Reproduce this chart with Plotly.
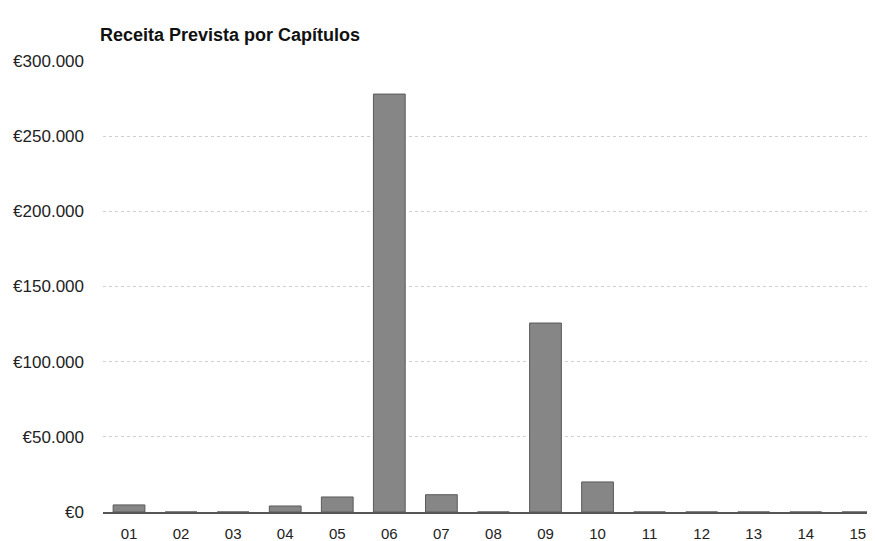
import plotly.graph_objects as go

categories = ["01", "02", "03", "04", "05", "06", "07", "08", "09", "10", "11", "12", "13", "14", "15"]
values = [4700, 0, 0, 4000, 10000, 278000, 11500, 0, 125700, 20000, 0, 0, 0, 0, 0]
y_ticks = [0, 50000, 100000, 150000, 200000, 250000, 300000]
y_tick_labels = ["€0", "€50.000", "€100.000", "€150.000", "€200.000", "€250.000", "€300.000"]

W, H = 867, 533  # page shows figure with an 8px body offset

fig = go.Figure()
fig.add_trace(go.Bar(
    x=list(range(len(categories))), y=values,
    marker=dict(color="#868686", line=dict(color="#5a5a5a", width=1)),
    width=0.61,
))

fig.update_layout(
    width=W, height=H,
    margin=dict(l=95, r=0, t=53, b=29, autoexpand=False),
    paper_bgcolor="white", plot_bgcolor="white",
    showlegend=False,
    font=dict(family="Liberation Sans, Arial, sans-serif", size=15, color="#222"),
    title=dict(
        text="<b>Receita Prevista por Capítulos</b>",
        xref="container", x=92/W, xanchor="left",
        yref="container", y=1-27/H, yanchor="middle",
        font=dict(size=18, color="#111"),
    ),
)
fig.update_xaxes(
    range=[-0.5, 14.33], tickvals=list(range(len(categories))), ticktext=categories,
    showgrid=False, showline=True, linecolor="#555", linewidth=2, zeroline=False,
    ticks="", ticklen=0, ticklabelstandoff=7,
    tickfont=dict(size=15, color="#222"), automargin=False,
)
fig.update_yaxes(
    range=[0, 300000], tickvals=y_ticks, ticktext=y_tick_labels,
    showgrid=True, gridcolor="#cfcfcf", griddash="dot", gridwidth=1,
    zeroline=False, showline=False, ticks="", ticklabelstandoff=18,
    tickfont=dict(size=17, color="#222"), automargin=False,
)
fig.write_html("out.html")
